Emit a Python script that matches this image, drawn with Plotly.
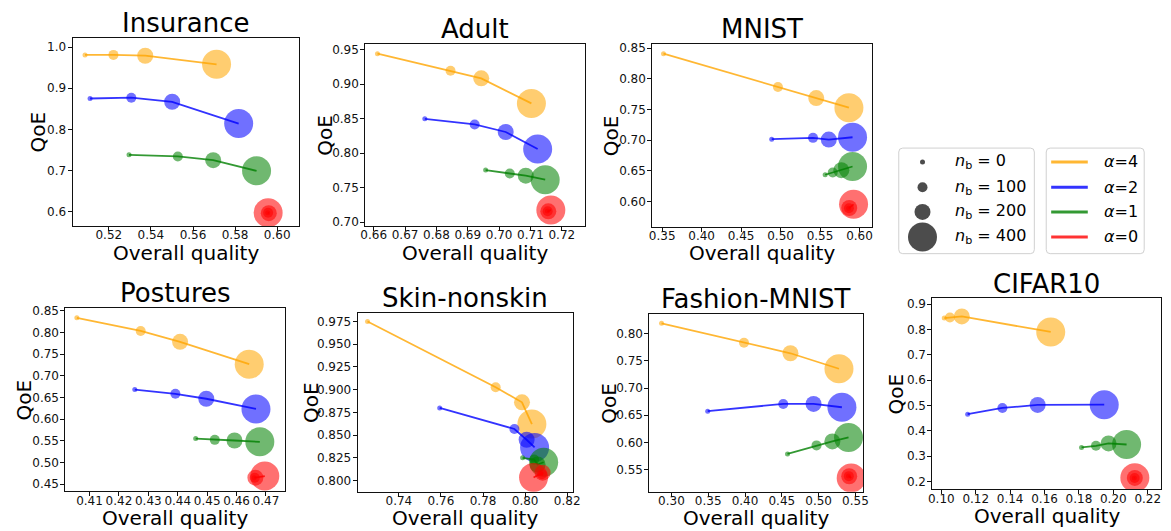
import plotly.graph_objects as go

W, H = 1171, 531
FONT = "DejaVu Sans"

# Series definitions: one row per α, one column per buffer size n_b
alpha_values = [4, 2, 1, 0]
alpha_colors = ["rgba(255,165,0,0.8)", "rgba(0,0,255,0.8)",
                "rgba(0,128,0,0.8)", "rgba(255,0,0,0.8)"]
nb_values = [0, 100, 200, 400]
nb_marker_px = [5, 10, 16, 29]

dataset_names = ["Insurance", "Adult", "MNIST", "Postures",
                 "Skin-nonskin", "Fashion-MNIST", "CIFAR10"]

# Overall quality (x) and QoE (y) per dataset
insurance_quality = [[0.5087, 0.5222, 0.5373, 0.5712],
                     [0.5111, 0.5307, 0.5501, 0.5817],
                     [0.5296, 0.5528, 0.5696, 0.5902],
                     [0.5955, 0.5957, 0.5960, 0.5957]]
insurance_qoe = [[0.981, 0.981, 0.979, 0.958],
                 [0.875, 0.877, 0.867, 0.814],
                 [0.738, 0.734, 0.725, 0.699],
                 [0.597, 0.597, 0.596, 0.597]]

adult_quality = [[0.6612, 0.6845, 0.6943, 0.7103],
                 [0.6763, 0.6922, 0.7021, 0.7123],
                 [0.6957, 0.7034, 0.7085, 0.7147],
                 [0.7154, 0.7155, 0.7157, 0.7165]]
adult_qoe = [[0.9443, 0.9195, 0.9085, 0.8722],
             [0.8498, 0.8417, 0.8307, 0.8061],
             [0.7754, 0.7706, 0.7673, 0.7616],
             [0.7160, 0.7158, 0.7157, 0.7177]]

mnist_quality = [[0.3517, 0.4967, 0.5452, 0.5866],
                 [0.4888, 0.5411, 0.5611, 0.5912],
                 [0.5565, 0.5661, 0.5770, 0.5912],
                 [0.5862, 0.5866, 0.5870, 0.5925]]
mnist_qoe = [[0.8409, 0.7868, 0.7686, 0.7531],
             [0.7017, 0.7039, 0.7012, 0.7049],
             [0.6439, 0.6476, 0.6514, 0.6573],
             [0.5895, 0.5895, 0.5898, 0.5957]]

postures_quality = [[0.4057, 0.4274, 0.4408, 0.4643],
                    [0.4254, 0.4392, 0.4497, 0.4666],
                    [0.4461, 0.4526, 0.4593, 0.4679],
                    [0.4660, 0.4662, 0.4664, 0.4696]]
postures_qoe = [[0.8341, 0.8037, 0.7787, 0.7270],
                [0.6686, 0.6587, 0.6473, 0.6238],
                [0.5555, 0.5525, 0.5510, 0.5479],
                [0.4652, 0.4650, 0.4652, 0.4690]]

skin_quality = [[0.7251, 0.7860, 0.7985, 0.8032],
                [0.7594, 0.7949, 0.8007, 0.8045],
                [0.7988, 0.8043, 0.8059, 0.8088],
                [0.8075, 0.8080, 0.8083, 0.8040]]
skin_qoe = [[0.9750, 0.9027, 0.8861, 0.8622],
            [0.8799, 0.8568, 0.8449, 0.8365],
            [0.8250, 0.8231, 0.8177, 0.8202],
            [0.8080, 0.8069, 0.8087, 0.8034]]

fashion_quality = [[0.2866, 0.3986, 0.4617, 0.5276],
                   [0.3493, 0.4519, 0.4931, 0.5316],
                   [0.4577, 0.4971, 0.5186, 0.5406],
                   [0.5405, 0.5410, 0.5415, 0.5442]]
fashion_qoe = [[0.8187, 0.7831, 0.7638, 0.7354],
               [0.6575, 0.6708, 0.6708, 0.6647],
               [0.5790, 0.5947, 0.6019, 0.6092],
               [0.5385, 0.5382, 0.5380, 0.5349]]

cifar_quality = [[0.1017, 0.1050, 0.1119, 0.1636],
                 [0.1153, 0.1355, 0.1560, 0.1947],
                 [0.1815, 0.1899, 0.1972, 0.2077],
                 [0.2122, 0.2124, 0.2125, 0.2125]]
cifar_qoe = [[0.8454, 0.8480, 0.8519, 0.7907],
             [0.4654, 0.4902, 0.5019, 0.5032],
             [0.3340, 0.3405, 0.3497, 0.3457],
             [0.2130, 0.2132, 0.2135, 0.2143]]

panel_data = [(insurance_quality, insurance_qoe), (adult_quality, adult_qoe),
              (mnist_quality, mnist_qoe), (postures_quality, postures_qoe),
              (skin_quality, skin_qoe), (fashion_quality, fashion_qoe),
              (cifar_quality, cifar_qoe)]

# Axes boxes in pixels: left, top, right, bottom
panel_boxes = [(68.3, 34.0, 296.7, 225.0), (364.0, 40.7, 586.0, 225.0),
               (654.0, 40.7, 875.7, 225.7), (61.0, 308.3, 282.7, 493.7),
               (356.3, 312.7, 574.0, 494.3), (651.0, 314.3, 867.3, 494.3),
               (937.0, 298.3, 1168.3, 491.7)]
panel_xrange = [(0.5028, 0.6102), (0.6573, 0.7274), (0.3375, 0.6155),
                (0.4018, 0.4764), (0.7204, 0.8228), (0.2700, 0.5608),
                (0.0948, 0.2279)]
panel_yrange = [(0.5648, 1.0232), (0.6943, 0.9581), (0.5593, 0.8564),
                (0.4341, 0.8561), (0.7877, 0.9848), (0.5095, 0.8356),
                (0.1688, 0.9234)]
panel_xticks = [(0.02, ".2f"), (0.01, ".2f"), (0.05, ".2f"), (0.01, ".2f"),
                (0.02, ".2f"), (0.05, ".2f"), (0.02, ".2f")]
panel_yticks = [(0.1, ".1f"), (0.05, ".2f"), (0.05, ".2f"), (0.05, ".2f"),
                (0.025, ".3f"), (0.05, ".2f"), (0.1, ".1f")]
ylabel_x = [33, 323, 613, 19, 309, 610, 900]

fig = go.Figure()
layout_axes = {}
annotations = []


def px_x(v):
    return v / W


def px_y(v):
    return 1 - v / H


for i, name in enumerate(dataset_names):
    k = "" if i == 0 else str(i + 1)
    xa, ya = "x" + k, "y" + k
    left, top, right, bottom = panel_boxes[i]
    quality, qoe = panel_data[i]

    for a, color in enumerate(alpha_colors):
        fig.add_trace(go.Scatter(
            x=quality[a], y=qoe[a], mode="markers", xaxis=xa, yaxis=ya,
            marker=dict(size=nb_marker_px, color=color, line=dict(width=0)),
            showlegend=False, hoverinfo="skip"))
        fig.add_trace(go.Scatter(
            x=quality[a], y=qoe[a], mode="lines", xaxis=xa, yaxis=ya,
            line=dict(color=color, width=1.8), showlegend=False,
            hoverinfo="skip"))

    axis_common = dict(showline=True, mirror=True, linecolor="#111",
                       linewidth=1, ticks="outside", ticklen=4,
                       tickcolor="#111", tickwidth=1, showgrid=False,
                       zeroline=False,
                       tickfont=dict(family=FONT, size=12, color="#111"))
    layout_axes["xaxis" + k] = dict(
        axis_common, domain=[px_x(left), px_x(right)],
        range=list(panel_xrange[i]), anchor=ya, tick0=0,
        dtick=panel_xticks[i][0], tickformat=panel_xticks[i][1],
        ticklabelstandoff=-6)
    layout_axes["yaxis" + k] = dict(
        axis_common, domain=[px_y(bottom), px_y(top)],
        range=list(panel_yrange[i]), anchor=xa, tick0=0,
        dtick=panel_yticks[i][0], tickformat=panel_yticks[i][1],
        ticklabelstandoff=-1)

    cx = (left + right) / 2
    cy = (top + bottom) / 2
    annotations.append(dict(text=name, x=px_x(cx), y=px_y(top - 15),
                            xref="paper", yref="paper", showarrow=False,
                            xanchor="center", yanchor="middle",
                            font=dict(family=FONT, size=26, color="black")))
    annotations.append(dict(text="Overall quality", x=px_x(cx),
                            y=px_y(bottom + 27), xref="paper", yref="paper",
                            showarrow=False, xanchor="center",
                            yanchor="middle",
                            font=dict(family=FONT, size=20, color="black")))
    annotations.append(dict(text="QoE", x=px_x(ylabel_x[i]), y=px_y(cy),
                            xref="paper", yref="paper", showarrow=False,
                            textangle=-90, xanchor="center",
                            yanchor="middle",
                            font=dict(family=FONT, size=20, color="black")))

# Legend drawn on a hidden full-figure axis measured in pixels
legend_axis = str(len(dataset_names) + 1)
lx, ly = "x" + legend_axis, "y" + legend_axis
layout_axes["xaxis" + legend_axis] = dict(domain=[0, 1], range=[0, W],
                                          visible=False, anchor=ly)
layout_axes["yaxis" + legend_axis] = dict(domain=[0, 1], range=[H, 0],
                                          visible=False, anchor=lx)

legend_rows = [160, 185.7, 210.7, 236]
size_box = (903, 146, 1040, 253)
alpha_box = (1052, 146, 1151, 253)


def rounded_box(x0, y0, x1, y1, r=4):
    return (f"M{x0 + r},{y0} L{x1 - r},{y0} Q{x1},{y0} {x1},{y0 + r} "
            f"L{x1},{y1 - r} Q{x1},{y1} {x1 - r},{y1} L{x0 + r},{y1} "
            f"Q{x0},{y1} {x0},{y1 - r} L{x0},{y0 + r} Q{x0},{y0} {x0 + r},{y0} Z")


shapes = []
for box in (size_box, alpha_box):
    shapes.append(dict(type="path", path=rounded_box(*box), xref=lx, yref=ly,
                       line=dict(color="#d0d0d0", width=1),
                       fillcolor="rgba(255,255,255,0.8)", layer="below"))

fig.add_trace(go.Scatter(
    x=[927] * len(nb_values), y=legend_rows, mode="markers", xaxis=lx,
    yaxis=ly, marker=dict(size=nb_marker_px, color="black",
                          line=dict(width=0)),
    showlegend=False, hoverinfo="skip"))
for j, nb in enumerate(nb_values):
    annotations.append(dict(text=f"<i>n</i><sub>b</sub> = {nb}", x=958,
                            y=legend_rows[j], xref=lx, yref=ly,
                            showarrow=False, xanchor="left",
                            yanchor="middle",
                            font=dict(family=FONT, size=16, color="black")))

for j, (alpha, color) in enumerate(zip(alpha_values, alpha_colors)):
    fig.add_trace(go.Scatter(
        x=[1057, 1094], y=[legend_rows[j]] * 2, mode="lines", xaxis=lx,
        yaxis=ly, line=dict(color=color, width=3), showlegend=False,
        hoverinfo="skip"))
    annotations.append(dict(text=f"<i>α</i>={alpha}", x=1108,
                            y=legend_rows[j], xref=lx, yref=ly,
                            showarrow=False, xanchor="left",
                            yanchor="middle",
                            font=dict(family=FONT, size=16, color="black")))

fig.update_layout(
    width=W, height=H, margin=dict(l=0, r=0, t=0, b=0),
    paper_bgcolor="white", plot_bgcolor="rgba(0,0,0,0)",
    font=dict(family=FONT, color="black"),
    showlegend=False, annotations=annotations, shapes=shapes,
    **layout_axes)

fig.write_html("out.html")
